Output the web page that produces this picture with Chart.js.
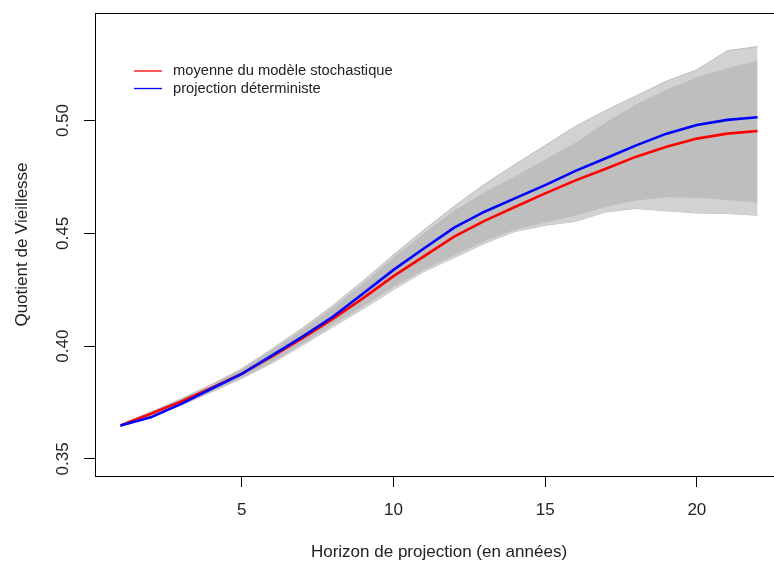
<!DOCTYPE html>
<html>
<head>
<meta charset="utf-8">
<script src="https://cdn.jsdelivr.net/npm/chart.js@4"></script>
<style>
  html, body { margin: 0; padding: 0; background: #fff; }
  #wrap { width: 774px; height: 566px; overflow: hidden; }
</style>
</head>
<body>
<div id="wrap"><canvas id="chart" width="800" height="566"></canvas></div>
<script>
// Horizon de projection (années)
const years = [1, 2, 3, 4, 5, 6, 7, 8, 9, 10, 11, 12, 13, 14, 15, 16, 17, 18, 19, 20, 21, 22];

// moyenne du modèle stochastique (rouge)
const meanStoch = [0.3648, 0.3700, 0.3755, 0.3815, 0.3878, 0.3955, 0.4035, 0.4120, 0.4213, 0.4310, 0.4398,
                   0.4485, 0.4555, 0.4617, 0.4677, 0.4735, 0.4786, 0.4840, 0.4884, 0.4920, 0.4942, 0.4954];

// projection déterministe (bleu)
const detProj = [0.3648, 0.3684, 0.3744, 0.3811, 0.3877, 0.3959, 0.4042, 0.4130, 0.4233, 0.4338, 0.4433,
                 0.4525, 0.4596, 0.4655, 0.4714, 0.4777, 0.4833, 0.4890, 0.4942, 0.4980, 0.5003, 0.5015];

// faisceau des simulations : coeur dense
const denseHigh = [0.3651, 0.3706, 0.3764, 0.3826, 0.3895, 0.3980, 0.4070, 0.4168, 0.4275, 0.4390, 0.4498,
                   0.4598, 0.4680, 0.4750, 0.4825, 0.4900, 0.4990, 0.5070, 0.5135, 0.5190, 0.5230, 0.5262];
const denseLow = [0.3645, 0.3686, 0.3740, 0.3800, 0.3862, 0.3932, 0.4012, 0.4098, 0.4178, 0.4265, 0.4340,
                  0.4405, 0.4468, 0.4518, 0.4550, 0.4580, 0.4620, 0.4648, 0.4662, 0.4660, 0.4650, 0.4638];

// trajectoires extrêmes
const outerHigh = [0.3652, 0.3708, 0.3767, 0.3830, 0.3900, 0.3988, 0.4080, 0.4180, 0.4290, 0.4405, 0.4515,
                   0.4620, 0.4718, 0.4805, 0.4890, 0.4975, 0.5045, 0.5110, 0.5175, 0.5225, 0.5310, 0.5328];
const outerLow = [0.3644, 0.3684, 0.3737, 0.3796, 0.3857, 0.3925, 0.4003, 0.4085, 0.4165, 0.4250, 0.4330,
                  0.4392, 0.4455, 0.4508, 0.4535, 0.4553, 0.4595, 0.4610, 0.4600, 0.4590, 0.4588, 0.4580];

const xTicks = [5, 10, 15, 20];
const yTicks = [0.35, 0.40, 0.45, 0.50];

const FONT = "'Liberation Sans', Arial, sans-serif";
const GREY = '#bebebe';

function pts(arr) {
    return years.map((x, i) => ({ x: x, y: arr[i] }));
}

// cadre autour de la zone de tracé + étiquettes verticales de l'axe y + légende
const boxPlugin = {
    id: 'rbox',
    afterDraw(chart) {
        const ctx = chart.ctx;
        const a = chart.chartArea;
        ctx.save();
        ctx.strokeStyle = '#000';
        ctx.lineWidth = 1;
        ctx.strokeRect(Math.round(a.left) + 0.5, Math.round(a.top) + 0.5,
                       Math.round(a.right - a.left), Math.round(a.bottom - a.top));

        // y tick labels, rotated like R's default las=0
        const ys = chart.scales.y;
        ctx.fillStyle = '#222';
        ctx.font = '17px ' + FONT;
        ctx.textAlign = 'center';
        ctx.textBaseline = 'middle';
        yTicks.forEach(v => {
            ctx.save();
            ctx.translate(63, ys.getPixelForValue(v));
            ctx.rotate(-Math.PI / 2);
            ctx.fillText(v.toFixed(2), 0, 0);
            ctx.restore();
        });

        // legend
        const items = chart.data.datasets.filter(d => d.inLegend);
        ctx.font = '14.7px ' + FONT;
        ctx.textAlign = 'left';
        items.forEach((d, i) => {
            const y = 71 + i * 17.5;
            ctx.strokeStyle = d.borderColor;
            ctx.lineWidth = 1.3;
            ctx.beginPath();
            ctx.moveTo(134, y);
            ctx.lineTo(162, y);
            ctx.stroke();
            ctx.fillStyle = '#222';
            ctx.fillText(d.label, 173, y);
        });
        ctx.restore();
    }
};

new Chart(document.getElementById('chart').getContext('2d'), {
    type: 'line',
    data: {
        datasets: [
            {
                label: 'outer high', data: pts(outerHigh), borderColor: GREY, borderWidth: 1,
                backgroundColor: '#d2d2d2', fill: '+1', order: 3
            },
            {
                label: 'outer low', data: pts(outerLow), borderColor: GREY, borderWidth: 1,
                fill: false, order: 3
            },
            {
                label: 'dense high', data: pts(denseHigh), borderColor: GREY, borderWidth: 1,
                backgroundColor: GREY, fill: '+1', order: 2
            },
            {
                label: 'dense low', data: pts(denseLow), borderColor: GREY, borderWidth: 1,
                fill: false, order: 2
            },
            {
                label: 'moyenne du modèle stochastique', data: pts(meanStoch), borderColor: '#ff0000',
                borderWidth: 2.6, fill: false, order: 1, inLegend: true
            },
            {
                label: 'projection déterministe', data: pts(detProj), borderColor: '#0000ff',
                borderWidth: 2.6, fill: false, order: 0, inLegend: true
            }
        ]
    },
    options: {
        responsive: false,
        animation: false,
        devicePixelRatio: 1,
        elements: { point: { radius: 0 }, line: { tension: 0 } },
        layout: { padding: { top: 13, right: 17, left: 0, bottom: 0 } },
        plugins: { legend: { display: false }, tooltip: { enabled: false } },
        scales: {
            x: {
                type: 'linear',
                min: 0.16,
                max: 22.84,
                afterBuildTicks: s => { s.ticks = xTicks.map(v => ({ value: v })); },
                afterFit: s => { s.height = 90; },
                grid: { drawOnChartArea: false, drawTicks: true, tickLength: 11, tickColor: '#000', color: '#000' },
                border: { display: false },
                ticks: { color: '#222', font: { family: FONT, size: 17 }, padding: 13, maxRotation: 0 },
                title: {
                    display: true, text: 'Horizon de projection (en années)', color: '#222',
                    font: { family: FONT, size: 17 }, padding: { top: 0, bottom: 3 }
                }
            },
            y: {
                type: 'linear',
                min: 0.3424,
                max: 0.5477,
                afterBuildTicks: s => { s.ticks = yTicks.map(v => ({ value: v })); },
                afterFit: s => { s.width = 95; },
                grid: { drawOnChartArea: false, drawTicks: true, tickLength: 11, tickColor: '#000', color: '#000' },
                border: { display: false },
                ticks: { display: false },
                title: {
                    display: true, text: 'Quotient de Vieillesse', color: '#222',
                    font: { family: FONT, size: 17 }, padding: { top: 12, bottom: 0 }
                }
            }
        }
    },
    plugins: [boxPlugin]
});
</script>
</body>
</html>
